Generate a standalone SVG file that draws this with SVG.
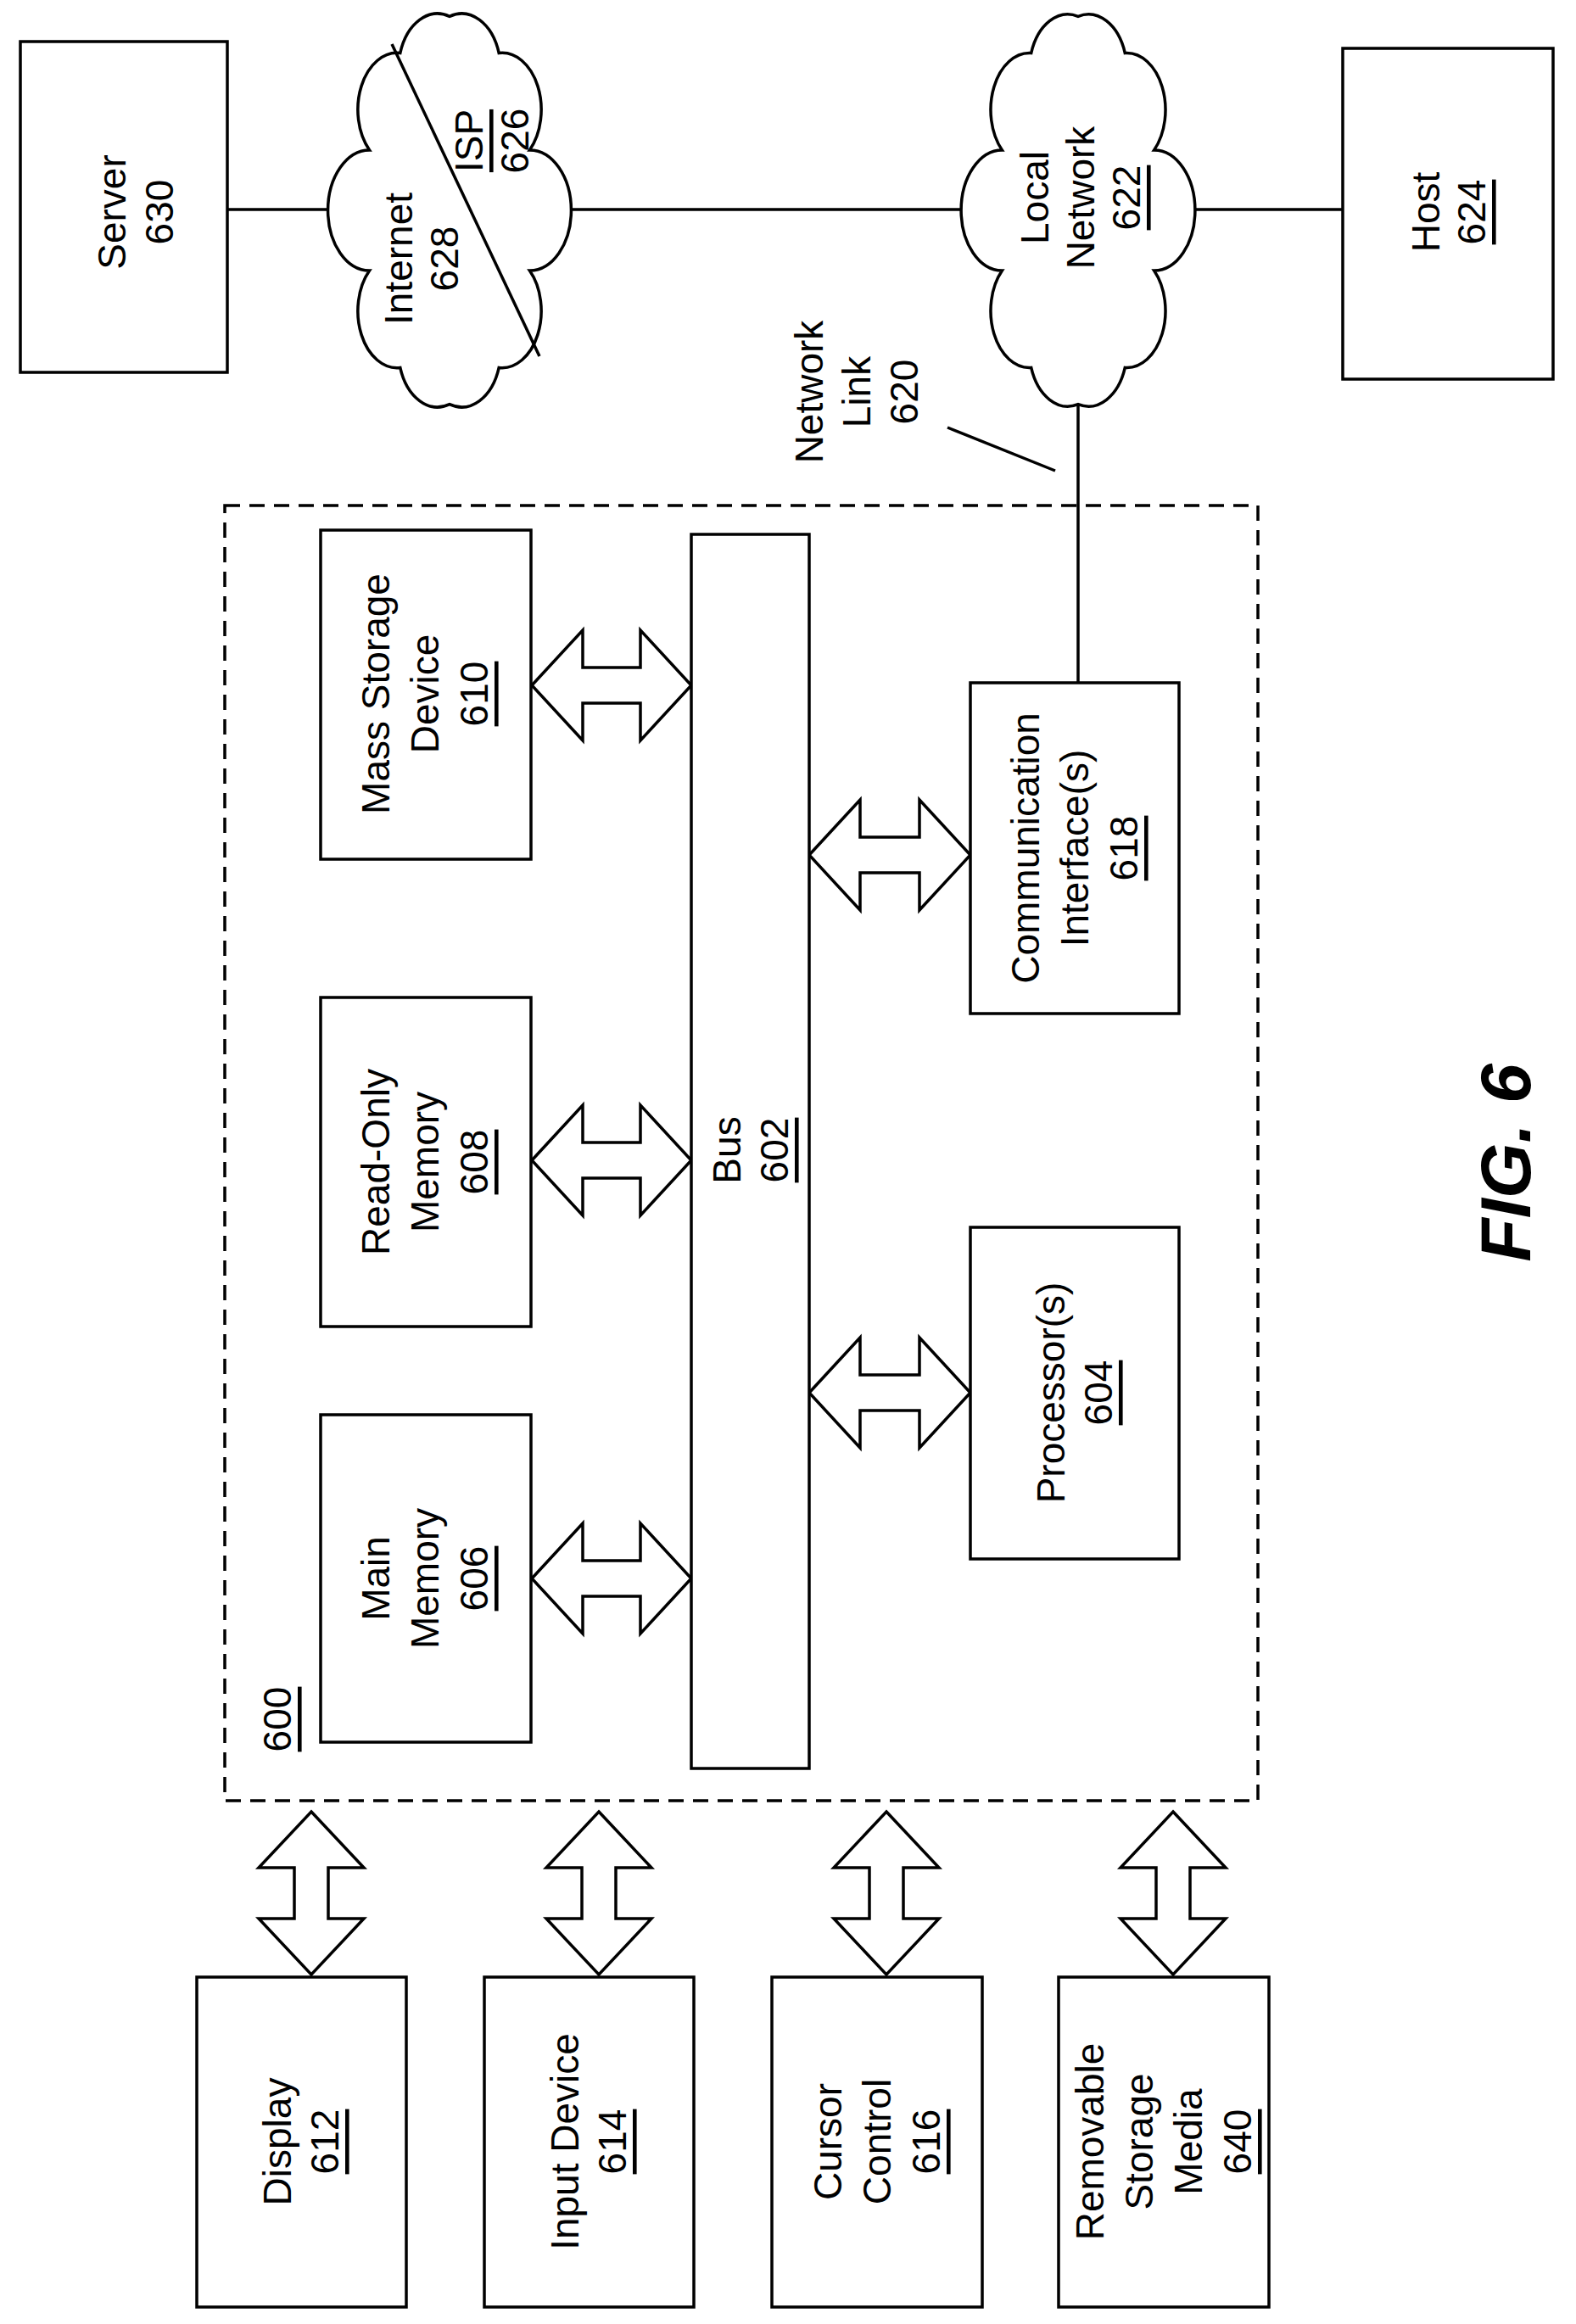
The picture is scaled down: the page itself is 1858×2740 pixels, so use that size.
<svg xmlns="http://www.w3.org/2000/svg" width="1858" height="2740" viewBox="0 0 1858 2740">
<style>
.b{fill:#fff;stroke:#000;stroke-width:3.5}
.l{fill:none;stroke:#000;stroke-width:3.5}
.t{font-family:"Liberation Sans",Arial,sans-serif;font-size:46px;text-anchor:middle;dominant-baseline:central;fill:#000}
.u{text-decoration:underline}
</style>
<rect width="1858" height="2740" fill="#fff"/>
<g id="connectors">
<line class="l" x1="268" y1="247" x2="392" y2="247"/>
<line class="l" x1="670" y1="247" x2="1138" y2="247"/>
<line class="l" x1="1404" y1="247" x2="1583" y2="247"/>
<line class="l" x1="1271" y1="470" x2="1271" y2="805" stroke-width="2.5"/>
<line class="l" x1="1117" y1="504" x2="1244" y2="555" stroke-width="2"/>
<path class="b" d="M627,808 l60,-65 v44 h68 v-44 l60,65 l-60,65 v-44 h-68 v44 z"/>
<path class="b" d="M627,1368 l60,-65 v44 h68 v-44 l60,65 l-60,65 v-44 h-68 v44 z"/>
<path class="b" d="M627,1861 l60,-65 v44 h68 v-44 l60,65 l-60,65 v-44 h-68 v44 z"/>
<path class="b" d="M954,1008 l60,-65 v44 h70 v-44 l60,65 l-60,65 v-44 h-70 v44 z"/>
<path class="b" d="M954,1642 l60,-65 v44 h70 v-44 l60,65 l-60,65 v-44 h-70 v44 z"/>
<path class="b" d="M367,2136 l62,66 h-42 v60 h42 l-62,66 l-62,-66 h42 v-60 h-42 z"/>
<path class="b" d="M706,2136 l62,66 h-42 v60 h42 l-62,66 l-62,-66 h42 v-60 h-42 z"/>
<path class="b" d="M1045,2136 l62,66 h-42 v60 h42 l-62,66 l-62,-66 h42 v-60 h-42 z"/>
<path class="b" d="M1383,2136 l62,66 h-42 v60 h42 l-62,66 l-62,-66 h42 v-60 h-42 z"/>
</g>
<g id="n600">
<rect x="265" y="596" width="1218" height="1527" fill="none" stroke="#000" stroke-width="3.5" stroke-dasharray="18 11"/>
<text class="t u" transform="translate(327,2027) rotate(-90)">600</text>
</g>
<g id="n630"><rect class="b" x="24" y="49" width="244" height="390"/>
<text class="t" transform="translate(160,250) rotate(-90)"><tspan x="0" y="-28">Server</tspan><tspan x="0" y="28">630</tspan></text></g>
<g id="n628">
<path class="b" vector-effect="non-scaling-stroke" transform="translate(530,248) scale(0.71,1.03) translate(-530,-248)" d="M530,26 A65,65 0 0 1 612,68 A65,65 0 0 1 663,179 A65,65 0 0 1 663,317 A65,65 0 0 1 612,428 A65,65 0 0 1 530,470 A65,65 0 0 1 448,428 A65,65 0 0 1 397,317 A65,65 0 0 1 397,179 A65,65 0 0 1 448,68 A65,65 0 0 1 530,26 Z"/>
<line class="l" x1="462" y1="52" x2="636" y2="420" stroke-width="2.5"/>
<text class="t" transform="translate(497,305) rotate(-90)"><tspan x="0" y="-27">Internet</tspan><tspan x="0" y="27">628</tspan></text>
<text class="t" transform="translate(580,166) rotate(-90)"><tspan x="0" y="-27" class="u">ISP</tspan><tspan x="0" y="27">626</tspan></text>
</g>
<g id="n622">
<path class="b" vector-effect="non-scaling-stroke" transform="translate(1271,248) scale(0.7,1.03) translate(-1271,-248)" d="M1271,26 A65,65 0 0 1 1350,68 A65,65 0 0 1 1399,179 A65,65 0 0 1 1399,317 A65,65 0 0 1 1350,428 A65,65 0 0 1 1271,470 A65,65 0 0 1 1192,428 A65,65 0 0 1 1143,317 A65,65 0 0 1 1143,179 A65,65 0 0 1 1192,68 A65,65 0 0 1 1271,26 Z"/>
<text class="t" transform="translate(1274,233) rotate(-90)"><tspan x="0" y="-54">Local</tspan><tspan x="0" y="0">Network</tspan><tspan x="0" y="54" class="u">622</tspan></text>
</g>
<g id="n624"><rect class="b" x="1583" y="57" width="248" height="390"/>
<text class="t" transform="translate(1708,250) rotate(-90)"><tspan x="0" y="-27">Host</tspan><tspan x="0" y="27" class="u">624</tspan></text></g>
<g id="n620"><text class="t" transform="translate(1010,462) rotate(-90)"><tspan x="0" y="-56">Network</tspan><tspan x="0" y="0">Link</tspan><tspan x="0" y="56">620</tspan></text></g>
<g id="n610"><rect class="b" x="378" y="625" width="248" height="388"/>
<text class="t" transform="translate(501,818) rotate(-90)"><tspan x="0" y="-58">Mass Storage</tspan><tspan x="0" y="0">Device</tspan><tspan x="0" y="58" class="u">610</tspan></text></g>
<g id="n608"><rect class="b" x="378" y="1176" width="248" height="388"/>
<text class="t" transform="translate(501,1370) rotate(-90)"><tspan x="0" y="-58">Read-Only</tspan><tspan x="0" y="0">Memory</tspan><tspan x="0" y="58" class="u">608</tspan></text></g>
<g id="n606"><rect class="b" x="378" y="1668" width="248" height="386"/>
<text class="t" transform="translate(501,1861) rotate(-90)"><tspan x="0" y="-58">Main</tspan><tspan x="0" y="0">Memory</tspan><tspan x="0" y="58" class="u">606</tspan></text></g>
<g id="n602"><rect class="b" x="815" y="630" width="139" height="1455"/>
<text class="t" transform="translate(885,1356) rotate(-90)"><tspan x="0" y="-28">Bus</tspan><tspan x="0" y="28" class="u">602</tspan></text></g>
<g id="n618"><rect class="b" x="1144" y="805" width="246" height="390"/>
<text class="t" transform="translate(1267,1000) rotate(-90)"><tspan x="0" y="-58">Communication</tspan><tspan x="0" y="0">Interface(s)</tspan><tspan x="0" y="58" class="u">618</tspan></text></g>
<g id="n604"><rect class="b" x="1144" y="1447" width="246" height="391"/>
<text class="t" transform="translate(1267,1642) rotate(-90)"><tspan x="0" y="-28">Processor(s)</tspan><tspan x="0" y="28" class="u">604</tspan></text></g>
<g id="n612"><rect class="b" x="232" y="2331" width="247" height="389"/>
<text class="t" transform="translate(355,2525) rotate(-90)"><tspan x="0" y="-28">Display</tspan><tspan x="0" y="28" class="u">612</tspan></text></g>
<g id="n614"><rect class="b" x="571" y="2331" width="247" height="389"/>
<text class="t" transform="translate(694,2525) rotate(-90)"><tspan x="0" y="-28">Input Device</tspan><tspan x="0" y="28" class="u">614</tspan></text></g>
<g id="n616"><rect class="b" x="910" y="2331" width="248" height="389"/>
<text class="t" transform="translate(1034,2525) rotate(-90)"><tspan x="0" y="-58">Cursor</tspan><tspan x="0" y="0">Control</tspan><tspan x="0" y="58" class="u">616</tspan></text></g>
<g id="n640"><rect class="b" x="1248" y="2331" width="248" height="389"/>
<text class="t" transform="translate(1372,2525) rotate(-90)"><tspan x="0" y="-87">Removable</tspan><tspan x="0" y="-29">Storage</tspan><tspan x="0" y="29">Media</tspan><tspan x="0" y="87" class="u">640</tspan></text></g>
<g id="fig"><text class="t" transform="translate(1775,1371) rotate(-90)" style="font-size:84px;font-weight:bold;font-style:italic">FIG. 6</text></g>
</svg>
